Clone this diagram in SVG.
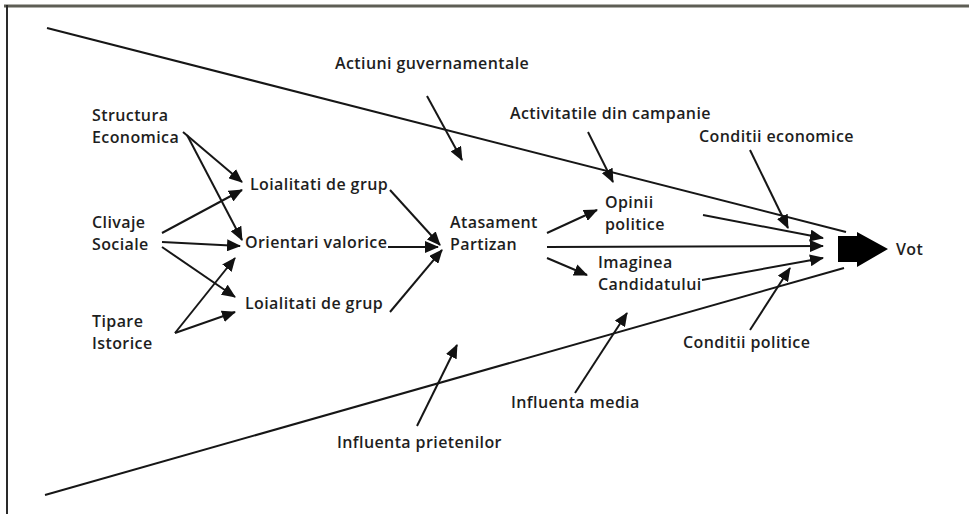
<svg xmlns="http://www.w3.org/2000/svg" width="969" height="514" viewBox="0 0 969 514">
<style>
text{font-family:"Open Sans","Liberation Sans",sans-serif;font-size:16px;font-weight:600;letter-spacing:0.4px;fill:#1e1e1e}
.c{stroke:#161616;stroke-width:2;fill:none}
.a{stroke:#161616;stroke-width:2;fill:none;marker-end:url(#ah)}
</style>
<defs>
<marker id="ah" markerUnits="userSpaceOnUse" markerWidth="14" markerHeight="12" refX="13" refY="6" orient="auto">
<path d="M0,0 L14,6 L0,12 Z" fill="#111"/>
</marker>
</defs>
<rect width="969" height="514" fill="#fff"/>
<g id="frame">
<line x1="4" y1="6" x2="969" y2="6" stroke="#5e5e55" stroke-width="3"/>
<line x1="7" y1="5" x2="7" y2="514" stroke="#2a2a2a" stroke-width="2"/>
</g>
<g id="connectors">
<line class="c" x1="47" y1="28" x2="846" y2="232"/>
<line class="c" x1="45" y1="495" x2="844" y2="268"/>
<line class="a" x1="183" y1="132" x2="242" y2="182"/>
<line class="a" x1="187" y1="135" x2="242" y2="240"/>
<line class="a" x1="162" y1="233" x2="242" y2="190"/>
<line class="a" x1="162" y1="242" x2="240" y2="246"/>
<line class="a" x1="162" y1="247" x2="235" y2="297"/>
<line class="a" x1="175" y1="333" x2="235" y2="258"/>
<line class="a" x1="175" y1="333" x2="235" y2="312"/>
<line class="a" x1="390" y1="190" x2="440" y2="245"/>
<line class="a" x1="388" y1="247" x2="438" y2="247"/>
<line class="a" x1="390" y1="312" x2="442" y2="250"/>
<line class="a" x1="427" y1="96" x2="462" y2="160"/>
<line class="a" x1="588" y1="132" x2="613" y2="182"/>
<line class="a" x1="547" y1="233" x2="597" y2="210"/>
<line class="a" x1="547" y1="247" x2="823" y2="246"/>
<line class="a" x1="547" y1="258" x2="587" y2="275"/>
<line class="a" x1="703" y1="215" x2="823" y2="238"/>
<line class="a" x1="702" y1="280" x2="823" y2="258"/>
<line class="a" x1="750" y1="150" x2="788" y2="228"/>
<line class="a" x1="750" y1="330" x2="790" y2="268"/>
<line class="a" x1="575" y1="393" x2="627" y2="313"/>
<line class="a" x1="417" y1="426" x2="457" y2="345"/>
</g>
<g id="vot-arrow">
<path d="M838,236 L857,236 L857,232 L888,249 L857,267 L857,262 L838,262 Z" fill="#000"/>
</g>
<g id="structura"><text x="92" y="120.5">Structura<tspan x="92" dy="22">Economica</tspan></text></g>
<g id="clivaje"><text x="92" y="227.5">Clivaje<tspan x="92" dy="22">Sociale</tspan></text></g>
<g id="tipare"><text x="92" y="326.5">Tipare<tspan x="92" dy="22">Istorice</tspan></text></g>
<g id="loialitati1"><text x="250" y="190">Loialitati de grup</text></g>
<g id="orientari"><text x="245" y="248">Orientari valorice</text></g>
<g id="loialitati2"><text x="245" y="309">Loialitati de grup</text></g>
<g id="actiuni"><text x="335" y="69">Actiuni guvernamentale</text></g>
<g id="atasament"><text x="450" y="227.5">Atasament<tspan x="450" dy="22">Partizan</tspan></text></g>
<g id="activitatile"><text x="510" y="119">Activitatile din campanie</text></g>
<g id="opinii"><text x="605" y="207.5">Opinii<tspan x="605" dy="22">politice</tspan></text></g>
<g id="imaginea"><text x="598" y="268">Imaginea<tspan x="598" dy="22">Candidatului</tspan></text></g>
<g id="cond-econ"><text x="699" y="142">Conditii economice</text></g>
<g id="cond-pol"><text x="683" y="348">Conditii politice</text></g>
<g id="vot"><text x="896" y="255">Vot</text></g>
<g id="media"><text x="511" y="408">Influenta media</text></g>
<g id="prieteni"><text x="337" y="448">Influenta prietenilor</text></g>
</svg>
